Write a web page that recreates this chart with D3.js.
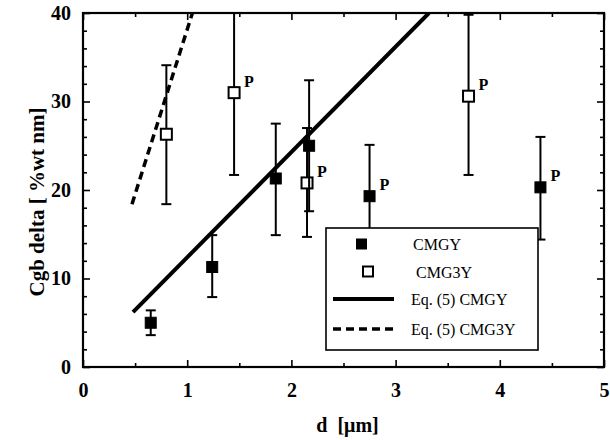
<!DOCTYPE html>
<html>
<head>
<meta charset="utf-8">
<script src="https://cdn.jsdelivr.net/npm/d3@7"></script>
<style>
  body { margin: 0; background: #fff; }
  svg text { font-family: "Liberation Serif", "DejaVu Serif", serif; }
</style>
</head>
<body>
<div id="vis-container"></div>
<script>
// CMGY (filled squares)
var cmgyD    = [0.65, 1.24, 1.85, 2.17, 2.75, 4.39];
var cmgyVal  = [5.0, 11.3, 21.3, 25.0, 19.3, 20.3];
var cmgyLo   = [3.6, 7.9, 14.9, 17.6, 13.4, 14.4];
var cmgyHi   = [6.4, 14.9, 27.5, 32.4, 25.1, 26.0];
var cmgyP    = [false, false, false, false, true, true];

// CMG3Y (open squares)
var cmg3yD   = [0.80, 1.45, 2.15, 3.70];
var cmg3yVal = [26.3, 31.0, 20.8, 30.6];
var cmg3yLo  = [18.4, 21.7, 14.7, 21.7];
var cmg3yHi  = [34.1, 41.0, 27.0, 39.8];
var cmg3yP   = [false, true, true, true];

// Eq. (5) fits
var fitCmgyD   = [0.48, 3.32];
var fitCmgyV   = [6.2, 40.0];
var fitCmg3yD  = [0.47, 1.05];
var fitCmg3yV  = [18.4, 40.0];

var xTicks = [0, 1, 2, 3, 4, 5];
var yTicks = [0, 10, 20, 30, 40];
var legendLabels = ["CMGY", "CMG3Y", "Eq. (5) CMGY", "Eq. (5) CMG3Y"];

var serif = "'Liberation Serif', 'DejaVu Serif', serif";
var W = 610, H = 440;
var margin = { top: 13, right: 6, bottom: 73, left: 83 };
var width  = W - margin.left - margin.right;
var height = H - margin.top - margin.bottom;

var svg = d3.select("#vis-container")
  .append("svg")
    .attr("width", W)
    .attr("height", H)
  .append("g")
    .attr("transform", "translate(" + margin.left + "," + margin.top + ")");

var xScale = d3.scaleLinear().domain([0, 5]).range([0, width]);
var yScale = d3.scaleLinear().domain([0, 40]).range([height, 0]);

svg.append("defs").append("clipPath").attr("id", "clip")
  .append("rect").attr("width", width).attr("height", height);

// minor ticks
var xMinor = d3.range(0.5, 5, 1);
var yMinor = d3.range(0, 41, 2).filter(function(v) { return v % 10 !== 0; });

function styleAxis(g) {
  g.attr("font-family", serif);
  g.select(".domain").remove();
  g.selectAll("line").attr("stroke", "#000").attr("stroke-width", 1.6);
  g.selectAll("text").attr("font-size", 20).attr("font-weight", "bold").attr("fill", "#000");
}

// bottom
svg.append("g")
  .attr("transform", "translate(0," + height + ")")
  .call(d3.axisBottom(xScale).tickValues(xTicks).tickSize(-7).tickPadding(16).tickFormat(d3.format("d")))
  .call(styleAxis);
svg.append("g")
  .attr("transform", "translate(0," + height + ")")
  .call(d3.axisBottom(xScale).tickValues(xMinor).tickSize(-4).tickFormat(""))
  .call(styleAxis);
// top
svg.append("g")
  .call(d3.axisTop(xScale).tickValues(xTicks).tickSize(-7).tickFormat(""))
  .call(styleAxis);
svg.append("g")
  .call(d3.axisTop(xScale).tickValues(xMinor).tickSize(-4).tickFormat(""))
  .call(styleAxis);
// left
svg.append("g")
  .call(d3.axisLeft(yScale).tickValues(yTicks).tickSize(-7).tickPadding(12).tickFormat(d3.format("d")))
  .call(styleAxis);
svg.append("g")
  .call(d3.axisLeft(yScale).tickValues(yMinor).tickSize(-4).tickFormat(""))
  .call(styleAxis);
// right
svg.append("g")
  .attr("transform", "translate(" + width + ",0)")
  .call(d3.axisRight(yScale).tickValues(yTicks).tickSize(-7).tickFormat(""))
  .call(styleAxis);
svg.append("g")
  .attr("transform", "translate(" + width + ",0)")
  .call(d3.axisRight(yScale).tickValues(yMinor).tickSize(-4).tickFormat(""))
  .call(styleAxis);

// frame
svg.append("rect")
  .attr("width", width).attr("height", height)
  .attr("fill", "none").attr("stroke", "#000").attr("stroke-width", 2.2);

var plot = svg.append("g").attr("clip-path", "url(#clip)");

// fit lines
var line = d3.line().x(function(d) { return xScale(d[0]); }).y(function(d) { return yScale(d[1]); });
plot.append("path")
  .attr("d", line(d3.zip(fitCmgyD, fitCmgyV)))
  .attr("fill", "none").attr("stroke", "#000").attr("stroke-width", 4);
plot.append("path")
  .attr("d", line(d3.zip(fitCmg3yD, fitCmg3yV)))
  .attr("fill", "none").attr("stroke", "#000").attr("stroke-width", 3.5)
  .attr("stroke-dasharray", "8,5");

function drawSeries(xs, vals, lo, hi, pFlags, filled) {
  var data = xs.map(function(x, i) {
    return { x: x, v: vals[i], lo: lo[i], hi: hi[i], p: pFlags[i] };
  });
  var cap = 5, sz = 11;
  var g = plot.append("g");
  g.selectAll(".bar").data(data).enter().append("line")
    .attr("x1", function(d) { return xScale(d.x); })
    .attr("x2", function(d) { return xScale(d.x); })
    .attr("y1", function(d) { return yScale(d.lo); })
    .attr("y2", function(d) { return yScale(d.hi); })
    .attr("stroke", "#000").attr("stroke-width", 2);
  g.selectAll(".capLo").data(data).enter().append("line")
    .attr("x1", function(d) { return xScale(d.x) - cap; })
    .attr("x2", function(d) { return xScale(d.x) + cap; })
    .attr("y1", function(d) { return yScale(d.lo); })
    .attr("y2", function(d) { return yScale(d.lo); })
    .attr("stroke", "#000").attr("stroke-width", 2);
  g.selectAll(".capHi").data(data).enter().append("line")
    .attr("x1", function(d) { return xScale(d.x) - cap; })
    .attr("x2", function(d) { return xScale(d.x) + cap; })
    .attr("y1", function(d) { return yScale(d.hi); })
    .attr("y2", function(d) { return yScale(d.hi); })
    .attr("stroke", "#000").attr("stroke-width", 2);
  g.selectAll(".pt").data(data).enter().append("rect")
    .attr("x", function(d) { return xScale(d.x) - sz / 2; })
    .attr("y", function(d) { return yScale(d.v) - sz / 2; })
    .attr("width", sz).attr("height", sz)
    .attr("fill", filled ? "#000" : "#fff")
    .attr("stroke", "#000").attr("stroke-width", filled ? 1 : 2);
  g.selectAll(".plab").data(data.filter(function(d) { return d.p; })).enter().append("text")
    .attr("x", function(d) { return xScale(d.x) + 10; })
    .attr("y", function(d) { return yScale(d.v) - 6; })
    .attr("font-size", 16).attr("font-weight", "bold")
    .text("P");
}

drawSeries(cmg3yD, cmg3yVal, cmg3yLo, cmg3yHi, cmg3yP, false);
drawSeries(cmgyD, cmgyVal, cmgyLo, cmgyHi, cmgyP, true);

// legend
var lg = svg.append("g").attr("transform", "translate(" + (326 - margin.left) + "," + (228 - margin.top) + ")");
lg.append("rect").attr("width", 212).attr("height", 122)
  .attr("fill", "#fff").attr("stroke", "#000").attr("stroke-width", 1.6);
var rowsY = [16, 44, 71, 101];
lg.append("rect").attr("x", 30).attr("y", rowsY[0] - 5.5).attr("width", 11).attr("height", 11).attr("fill", "#000");
lg.append("rect").attr("x", 37).attr("y", rowsY[1] - 5.5).attr("width", 10).attr("height", 10)
  .attr("fill", "#fff").attr("stroke", "#000").attr("stroke-width", 2);
lg.append("line").attr("x1", 7).attr("x2", 68).attr("y1", rowsY[2]).attr("y2", rowsY[2])
  .attr("stroke", "#000").attr("stroke-width", 4);
lg.append("line").attr("x1", 7).attr("x2", 68).attr("y1", rowsY[3]).attr("y2", rowsY[3])
  .attr("stroke", "#000").attr("stroke-width", 3.5).attr("stroke-dasharray", "8,5");
var textX = [87, 90, 85, 85];
lg.selectAll(".lt").data(legendLabels).enter().append("text")
  .attr("x", function(d, i) { return textX[i]; })
  .attr("y", function(d, i) { return rowsY[i] + 6; })
  .attr("font-size", 16)
  .text(function(d) { return d; });

// axis titles
svg.append("text")
  .attr("x", width / 2 + 4).attr("y", height + 65)
  .attr("text-anchor", "middle").attr("font-size", 20).attr("font-weight", "bold")
  .attr("xml:space", "preserve")
  .text("d  [\u03bcm]");
svg.append("text")
  .attr("transform", "translate(" + (-39) + "," + (height / 2 + 12) + ") rotate(-90)")
  .attr("text-anchor", "middle").attr("font-size", 21).attr("font-weight", "bold")
  .attr("xml:space", "preserve")
  .text("Cgb delta [ %wt nm]");
</script>
</body>
</html>
